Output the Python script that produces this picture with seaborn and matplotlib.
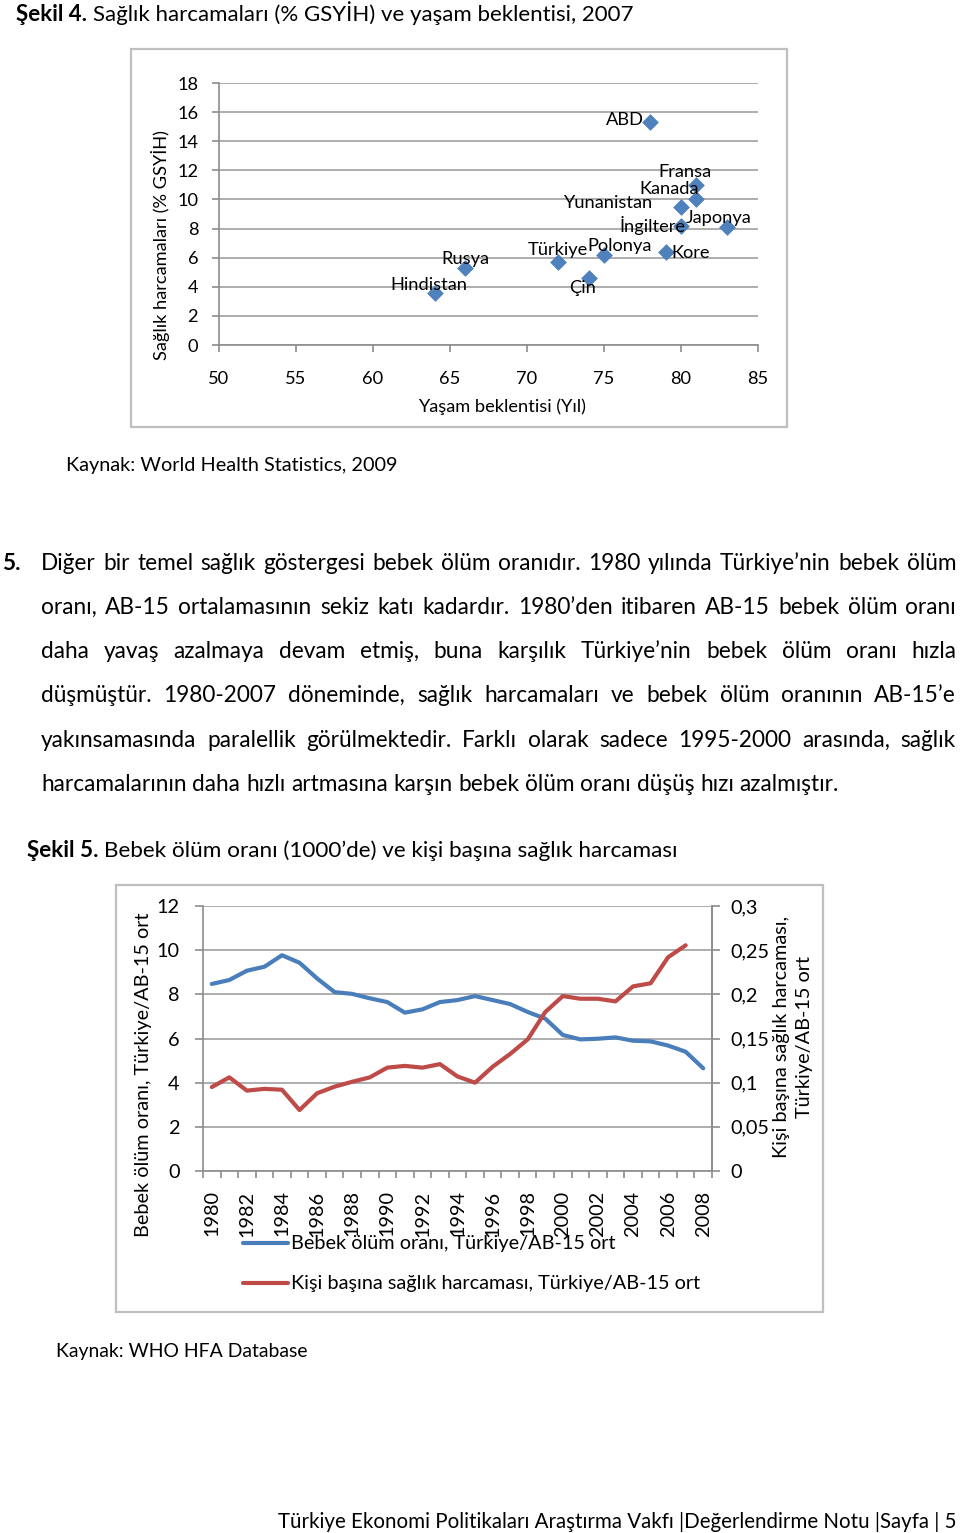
import matplotlib
matplotlib.use("Agg")
import matplotlib.pyplot as plt
import matplotlib.ticker as mticker
from matplotlib.patches import Rectangle
from matplotlib.lines import Line2D
import numpy as np
import pandas as pd
import seaborn as sns

# ---------------- data ----------------
ulkeler = ["ABD", "Fransa", "Kanada", "Yunanistan", "İngiltere", "Japonya",
           "Kore", "Polonya", "Türkiye", "Çin", "Rusya", "Hindistan"]
yasam_beklentisi = [78, 81, 81, 80, 80, 83, 79, 75, 72, 74, 66, 64]
saglik_harcamasi = [15.3, 11.0, 10.0, 9.5, 8.2, 8.1, 6.4, 6.2, 5.7, 4.6, 5.3, 3.6]

yillar = list(range(1980, 2009))
bebek_olum = [8.47, 8.65, 9.07, 9.25, 9.77, 9.43, 8.72, 8.10, 8.02, 7.82,
              7.65, 7.17, 7.32, 7.65, 7.74, 7.92, 7.74, 7.56, 7.20, 6.90,
              6.16, 5.96, 5.99, 6.05, 5.90, 5.87, 5.68, 5.40, 4.65]
harcama_yillar = list(range(1980, 2008))
kisi_basi_harcama = [0.095, 0.106, 0.091, 0.093, 0.092, 0.069, 0.088, 0.0955, 0.101, 0.106,
                     0.117, 0.119, 0.117, 0.121, 0.107, 0.100, 0.118, 0.1325, 0.149, 0.180,
                     0.198, 0.195, 0.195, 0.192, 0.209, 0.2125, 0.242, 0.2555]

sol_tikler = [0, 2, 4, 6, 8, 10, 12]
sag_tikler = [0, 0.05, 0.1, 0.15, 0.2, 0.25, 0.3]

baslik4 = ("Şekil 4.", "Sağlık harcamaları (% GSYİH) ve yaşam beklentisi, 2007")
baslik5 = ("Şekil 5.", "Bebek ölüm oranı (1000’de) ve kişi başına sağlık harcaması")
kaynak4 = "Kaynak: World Health Statistics, 2009"
kaynak5 = "Kaynak: WHO HFA Database"
paragraf = [
    "Diğer bir temel sağlık göstergesi bebek ölüm oranıdır. 1980 yılında Türkiye’nin bebek ölüm",
    "oranı, AB-15 ortalamasının sekiz katı kadardır. 1980’den itibaren AB-15 bebek ölüm oranı",
    "daha yavaş azalmaya devam etmiş, buna karşılık Türkiye’nin bebek ölüm oranı hızla",
    "düşmüştür. 1980-2007 döneminde, sağlık harcamaları ve bebek ölüm oranının AB-15’e",
    "yakınsamasında paralellik görülmektedir. Farklı olarak sadece 1995-2000 arasında, sağlık",
    "harcamalarının daha hızlı artmasına karşın bebek ölüm oranı düşüş hızı azalmıştır.",
]
altbilgi = "Türkiye Ekonomi Politikaları Araştırma Vakfı |Değerlendirme Notu |Sayfa | 5"
seri_adlari = ["Bebek ölüm oranı, Türkiye/AB-15 ort",
               "Kişi başına sağlık harcaması, Türkiye/AB-15 ort"]

# ---------------- setup ----------------
sns.set_theme(style="white")
plt.rcParams["font.family"] = ["Lato", "DejaVu Sans"]
plt.rcParams["axes.unicode_minus"] = False

W, H = 960, 1533
fig = plt.figure(figsize=(W / 100, H / 100), dpi=100)
fig.patch.set_facecolor("white")
renderer = fig.canvas.get_renderer()


def fx(x):
    return x / W


def fy(y):
    return 1 - y / H


def tw(s, size, weight="normal"):
    t = fig.text(0, 0, s, fontsize=size, fontweight=weight)
    w = t.get_window_extent(renderer=renderer).width
    t.remove()
    return w


def fit(s, target, weight="normal"):
    return 10 * target / tw(s, 10, weight)


def fit_runs(parts, target):
    w10 = sum(tw(s, 10, wgt) for s, wgt in parts) + (len(parts) - 1) * (tw("a b", 10) - tw("ab", 10))
    return 10 * target / w10


BODY = fit(paragraf[5], 797)
T4 = fit_runs([(baslik4[0], "bold"), (baslik4[1], "normal")], 613)
T5 = fit_runs([(baslik5[0], "bold"), (baslik5[1], "normal")], 649)
K4 = fit(kaynak4, 332)
K5 = fit(kaynak5, 251)
FOOT = fit(altbilgi, 680)
C1 = fit("Yaşam beklentisi (Yıl)", 168)
C2 = fit(seri_adlari[0], 325)
TXT = "#000000"
GRID = "#A0A0A0"
AXC = "#8C8C8C"
BLUE = "#4A7EBB"
RED = "#BE4B48"


def runs(x0, yb, parts, size):
    sp = tw("a b", size) - tw("ab", size)
    x = x0
    for s, wgt in parts:
        fig.text(fx(x), fy(yb), s, fontsize=size, fontweight=wgt, va="baseline", ha="left", color=TXT)
        x += tw(s, size, wgt) + sp


def justified(x0, x1, yb, s, size, justify=True):
    sp = tw("a b", size) - tw("ab", size)
    words = s.split(" ")
    ws = [tw(w, size) for w in words]
    gap = (x1 - x0 - sum(ws)) / (len(words) - 1) if justify else sp
    x = x0
    for w, wd in zip(words, ws):
        fig.text(fx(x), fy(yb), w, fontsize=size, va="baseline", ha="left", color=TXT)
        x += wd + gap


def frame(x0, y0, x1, y1):
    fig.add_artist(Rectangle((fx(x0), fy(y1)), fx(x1) - fx(x0), fy(y0) - fy(y1),
                             transform=fig.transFigure, fill=False, ec="#BFBFBF", lw=1.6))


# ---------------- page text ----------------
runs(16, 21, [(baslik4[0], "bold"), (baslik4[1], "normal")], T4)
fig.text(fx(66), fy(471), kaynak4, fontsize=K4, va="baseline", color=TXT)
fig.text(fx(2), fy(570), "5.", fontsize=BODY, fontweight="bold", va="baseline", color=TXT)
baselines = [570, 614, 658, 702, 747, 791]
for i, (line, yb) in enumerate(zip(paragraf, baselines)):
    justified(41, 956, yb, line, BODY, justify=(i < len(paragraf) - 1))
runs(27, 857, [(baslik5[0], "bold"), (baslik5[1], "normal")], T5)
fig.text(fx(56), fy(1357), kaynak5, fontsize=K5, va="baseline", color=TXT)
fig.text(fx(956), fy(1528), altbilgi, fontsize=FOOT, va="baseline", ha="right", color=TXT)

# ---------------- chart 1 ----------------
frame(131, 49, 787, 427)
ax1 = fig.add_axes([fx(219), fy(345), fx(758) - fx(219), fy(83) - fy(345)])
df1 = pd.DataFrame({"ulke": ulkeler, "yasam": yasam_beklentisi, "harcama": saglik_harcamasi})
sns.scatterplot(data=df1, x="yasam", y="harcama", ax=ax1, marker="D", s=64,
                color="#4F81BD", edgecolor="#4F81BD", linewidth=0.5, zorder=3, legend=False)
ax1.set_xlim(50, 85)
ax1.set_ylim(0, 18)
ax1.set_xticks(range(50, 86, 5))
ax1.set_yticks(range(0, 19, 2))
ax1.yaxis.grid(True, color=GRID, lw=1.2)
ax1.xaxis.grid(False)
ax1.set_axisbelow(True)
for sp in ["top", "right"]:
    ax1.spines[sp].set_visible(False)
for sp in ["left", "bottom"]:
    ax1.spines[sp].set_color(AXC)
    ax1.spines[sp].set_linewidth(1.2)
ax1.tick_params(axis="y", left=True, length=5, width=1.2, color=AXC, pad=10, labelsize=C1, labelcolor=TXT)
ax1.tick_params(axis="x", bottom=True, length=5, width=1.2, color=AXC, pad=14, labelsize=C1, labelcolor=TXT)
ax1.set_xlabel("")
ax1.set_ylabel("")
ax1.set_facecolor("none")

offsets = {
    "ABD": ("right", -6, 2), "Fransa": ("center", -11, 13), "Kanada": ("center", -27, 10),
    "Yunanistan": ("right", -29, 4), "İngiltere": ("right", 5, 0), "Japonya": ("center", -9, 9),
    "Kore": ("left", 6, -1), "Polonya": ("center", 16, 9), "Türkiye": ("center", 0, 12),
    "Çin": ("center", -6, -10), "Rusya": ("center", 0, 9), "Hindistan": ("center", -6, 8),
}
for u, xv, yv in zip(ulkeler, yasam_beklentisi, saglik_harcamasi):
    ha, dx, dy = offsets[u]
    ax1.annotate(u, (xv, yv), xytext=(dx, dy), textcoords="offset pixels",
                 ha=ha, va="center", fontsize=C1, color=TXT, zorder=4)

fig.text(fx(160), fy(245), "Sağlık harcamaları (% GSYİH)", rotation=90, ha="center", va="center",
         fontsize=C1, color=TXT)
fig.text(fx(502), fy(407), "Yaşam beklentisi (Yıl)", ha="center", va="center", fontsize=C1, color=TXT)

# ---------------- chart 2 ----------------
frame(116, 885, 823, 1312)
L, R, T, B = 203, 712, 906, 1171
ax2 = fig.add_axes([fx(L), fy(B), fx(R) - fx(L), fy(T) - fy(B)])
df_b = pd.DataFrame({"yil": yillar, "deger": bebek_olum})
df_h = pd.DataFrame({"yil": harcama_yillar, "deger": kisi_basi_harcama})
sns.lineplot(data=df_b, x="yil", y="deger", ax=ax2, color=BLUE, lw=3.0, legend=False, zorder=3)
ax2.set_xlim(yillar[0] - 0.5, yillar[-1] + 0.5)
ax2.set_ylim(0, 12)
ax2.set_yticks(sol_tikler)
ax2.set_yticklabels([str(v) for v in sol_tikler])
ax2.set_xticks(yillar[::2])
ax2.set_xticklabels([str(y) for y in yillar[::2]], rotation=90, va="top", ha="center")
ax2.set_xticks(np.arange(yillar[0] - 0.5, yillar[-1] + 1.0, 1.0), minor=True)
ax2.yaxis.grid(True, color=GRID, lw=1.2)
ax2.xaxis.grid(False)
ax2.set_axisbelow(True)
ax2.set_xlabel("")
ax2.set_ylabel("")
ax2.spines["top"].set_visible(False)
for sp in ["left", "bottom", "right"]:
    ax2.spines[sp].set_color(AXC)
    ax2.spines[sp].set_linewidth(1.2)
ax2.tick_params(axis="y", left=True, length=6, width=1.2, color=AXC, pad=11, labelsize=C2, labelcolor=TXT)
ax2.tick_params(axis="x", which="major", bottom=True, length=0, pad=14, labelsize=C2, labelcolor=TXT)
ax2.tick_params(axis="x", which="minor", bottom=True, length=5, width=1.2, color=AXC)

ax3 = ax2.twinx()
sns.lineplot(data=df_h, x="yil", y="deger", ax=ax3, color=RED, lw=3.0, legend=False, zorder=3)
ax3.set_ylim(0, 0.3)
ax3.set_yticks(sag_tikler)
ax3.set_yticklabels([("%g" % v).replace(".", ",") for v in sag_tikler])
ax3.set_xlim(yillar[0] - 0.5, yillar[-1] + 0.5)
ax3.set_xlabel("")
ax3.set_ylabel("")
ax3.grid(False)
for sp in ["top", "left", "bottom"]:
    ax3.spines[sp].set_visible(False)
ax3.spines["right"].set_color(AXC)
ax3.spines["right"].set_linewidth(1.2)
ax3.tick_params(axis="y", right=True, length=6, width=1.2, color=AXC, pad=7, labelsize=C2, labelcolor=TXT)

fig.text(fx(143), fy(1075), "Bebek ölüm oranı, Türkiye/AB-15 ort", rotation=90,
         ha="center", va="center", fontsize=C2, color=TXT)
fig.text(fx(793), fy(1037), "Kişi başına sağlık harcaması,\nTürkiye/AB-15 ort", rotation=90,
         ha="center", va="center", multialignment="center", fontsize=C2, color=TXT, linespacing=1.45)

# legend
for (name, col), yc in zip(zip(seri_adlari, [BLUE, RED]), [1243, 1283]):
    fig.add_artist(Line2D([fx(243), fx(288)], [fy(yc), fy(yc)], transform=fig.transFigure,
                          color=col, lw=3.0, solid_capstyle="round"))
    fig.text(fx(291), fy(yc), name, ha="left", va="center", fontsize=C2, color=TXT)

fig.savefig("out.png", dpi=100, facecolor="white")
